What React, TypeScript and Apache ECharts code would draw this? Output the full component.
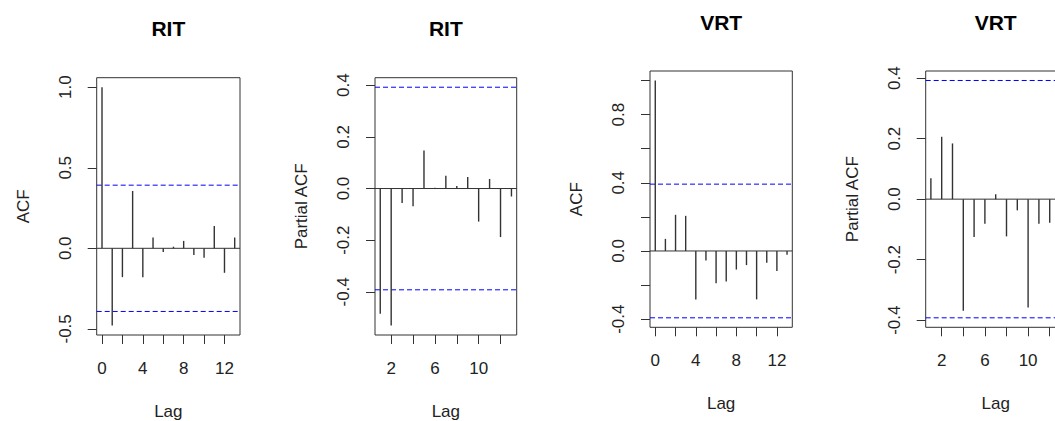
import React, { useEffect, useRef } from "react";
import * as echarts from "echarts";

const lagsAcf = [0, 1, 2, 3, 4, 5, 6, 7, 8, 9, 10, 11, 12, 13];
const lagsPacf = [1, 2, 3, 4, 5, 6, 7, 8, 9, 10, 11, 12, 13];

const ritAcf = [1.0, -0.479, -0.179, 0.356, -0.179, 0.067, -0.023, 0.01, 0.046, -0.042, -0.058, 0.138, -0.152, 0.067];
const ritPacf = [-0.485, -0.53, -0.056, -0.069, 0.147, 0.003, 0.049, 0.01, 0.045, -0.128, 0.037, -0.188, -0.031];
const vrtAcf = [1.0, 0.071, 0.212, 0.206, -0.284, -0.056, -0.19, -0.179, -0.109, -0.083, -0.284, -0.069, -0.117, -0.022];
const vrtPacf = [0.069, 0.206, 0.184, -0.369, -0.125, -0.081, 0.016, -0.123, -0.037, -0.358, -0.081, -0.078, -0.05];

const clim = 0.392;

const titles = ["RIT", "RIT", "VRT", "VRT"];
const yNames = ["ACF", "Partial ACF", "ACF", "Partial ACF"];

const xTicksAcf = [0, 2, 4, 6, 8, 10, 12];
const xLabelsAcf = [0, 4, 8, 12];
const xTicksPacf = [2, 4, 6, 8, 10, 12];
const xLabelsPacf = [2, 6, 10];

const yTicks = [
  [-0.5, 0, 0.5, 1.0],
  [-0.4, -0.2, 0, 0.2, 0.4],
  [-0.4, -0.2, 0, 0.2, 0.4, 0.6, 0.8, 1.0],
  [-0.4, -0.2, 0, 0.2, 0.4],
];
const yLabels = [
  [-0.5, 0, 0.5, 1.0],
  [-0.4, -0.2, 0, 0.2, 0.4],
  [-0.4, 0, 0.4, 0.8],
  [-0.4, -0.2, 0, 0.2, 0.4],
];

const FONT = '"Liberation Sans", Arial, Helvetica, sans-serif';
const INK = "#333";
const TXT = "#222";
const BLUE = "#0000ff";

const grids = [
  { left: 96.7, top: 77.7, width: 143.3, height: 257.3 },
  { left: 375, top: 77.7, width: 141.7, height: 257.3 },
  { left: 650, top: 71, width: 142.3, height: 256.3 },
  { left: 925.7, top: 71, width: 140, height: 256.3 },
];

function buildOption() {
  const panels = [
    { lags: lagsAcf, vals: ritAcf, xt: xTicksAcf, xl: xLabelsAcf },
    { lags: lagsPacf, vals: ritPacf, xt: xTicksPacf, xl: xLabelsPacf },
    { lags: lagsAcf, vals: vrtAcf, xt: xTicksAcf, xl: xLabelsAcf },
    { lags: lagsPacf, vals: vrtPacf, xt: xTicksPacf, xl: xLabelsPacf },
  ];
  const textStyle = { fontSize: 17, color: TXT, fontFamily: FONT };
  const grid: any[] = [];
  const xAxis: any[] = [];
  const yAxis: any[] = [];
  const series: any[] = [];
  const graphic: any[] = [];
  panels.forEach((p, i) => {
    const g = grids[i];
    grid.push({
      ...g,
      show: true,
      borderColor: INK,
      borderWidth: 1,
      backgroundColor: "transparent",
      containLabel: false,
      outerBoundsMode: "none",
    });
    const xlo = Math.min(...p.lags);
    const xhi = Math.max(...p.lags);
    const xe = (xhi - xlo) * 0.04;
    const ylo = Math.min(-clim, ...p.vals);
    const yhi = Math.max(clim, ...p.vals);
    const ye = (yhi - ylo) * 0.04;
    const xmin = xlo - xe;
    const xmax = xhi + xe;
    xAxis.push({
      gridIndex: i,
      type: "value",
      min: xmin,
      max: xmax,
      axisLine: { show: false, onZero: false },
      axisTick: { show: true, inside: false, length: 9, customValues: p.xt, lineStyle: { color: INK, width: 1 } },
      axisLabel: { show: true, customValues: p.xl, margin: 25, ...textStyle, formatter: (v: number) => String(v) },
      splitLine: { show: false },
      name: "Lag",
      nameLocation: "middle",
      nameGap: 68,
      nameTextStyle: textStyle,
    });
    yAxis.push({
      gridIndex: i,
      type: "value",
      min: ylo - ye,
      max: yhi + ye,
      axisLine: { show: false, onZero: false },
      axisTick: { show: true, inside: false, length: 9, customValues: yTicks[i], lineStyle: { color: INK, width: 1 } },
      axisLabel: { show: true, rotate: 90, customValues: yLabels[i], margin: 23, ...textStyle, formatter: (v: number) => v.toFixed(1) },
      splitLine: { show: false },
      name: yNames[i],
      nameLocation: "middle",
      nameGap: 65,
      nameRotate: 90,
      nameTextStyle: textStyle,
    });
    // reference lines: zero and the +/- confidence limits
    series.push({
      type: "custom",
      xAxisIndex: i,
      yAxisIndex: i,
      silent: true,
      clip: true,
      data: [0, clim, -clim].map((v) => [xmin, v]),
      renderItem: (_params: any, api: any) => {
        const v = api.value(1);
        const a = api.coord([xmin, v]);
        const b = api.coord([xmax, v]);
        const isZero = v === 0;
        return {
          type: "line",
          shape: { x1: a[0], y1: a[1], x2: b[0], y2: b[1] },
          style: {
            stroke: isZero ? INK : BLUE,
            lineWidth: 1,
            lineDash: isZero ? null : [5, 3],
            fill: null,
          },
        };
      },
    });
    series.push({
      type: "bar",
      xAxisIndex: i,
      yAxisIndex: i,
      data: p.lags.map((l, k) => [l, p.vals[k]]),
      barWidth: 1.4,
      itemStyle: { color: INK },
      silent: true,
    });
    graphic.push({
      type: "text",
      x: g.left + g.width / 2,
      y: i < 2 ? 28 : 22,
      style: {
        text: titles[i],
        font: `bold 21px ${FONT}`,
        fill: "#000",
        textAlign: "center",
        textVerticalAlign: "middle",
      },
    });
  });
  return { animation: false, backgroundColor: "#fff", grid, xAxis, yAxis, series, graphic };
}

export default function App() {
  const ref = useRef<HTMLDivElement>(null);
  useEffect(() => {
    const chart = echarts.init(ref.current!, null, { renderer: "svg" });
    chart.setOption(buildOption() as any);
    return () => chart.dispose();
  }, []);
  return (
    <div
      ref={ref}
      style={{ position: "fixed", left: 0, top: 0, width: 1055, height: 421, background: "#fff" }}
    />
  );
}
